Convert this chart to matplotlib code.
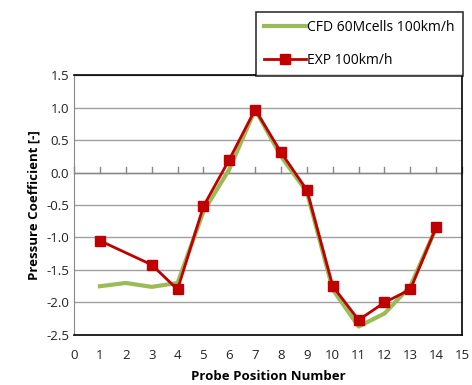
import numpy as np
import matplotlib
matplotlib.use("Agg")
import matplotlib.pyplot as plt

plt.rcParams['font.family'] = ['Open Sans', 'DejaVu Sans']

# data
cfd_x = [1, 2, 3, 4, 5, 6, 7, 8, 9, 10, 11, 12, 13, 14]
cfd_cp = [-1.75, -1.70, -1.76, -1.70, -0.60, 0.05, 0.97, 0.25, -0.30, -1.80, -2.37, -2.17, -1.75, -0.85]
exp_x = [1, 3, 4, 5, 6, 7, 8, 9, 10, 11, 12, 13, 14]
exp_cp = [-1.05, -1.42, -1.80, -0.52, 0.20, 0.97, 0.31, -0.27, -1.75, -2.27, -2.00, -1.80, -0.84]

xticks = np.arange(0, 16, 1)
yticks = np.arange(-2.5, 1.51, 0.5)

fig = plt.figure(figsize=(4.72, 3.85), dpi=100)
ax = fig.add_axes([0.157, 0.130, 0.822, 0.675])

green = '#9bbb59'
red = '#c00000'

ax.plot(cfd_x, cfd_cp, color=green, lw=3, label='CFD 60Mcells 100km/h', zorder=3)
ax.plot(exp_x, exp_cp, color=red, lw=2, marker='s', ms=7.3, label='EXP 100km/h', zorder=4)

ax.set_xlim(0, 15)
ax.set_ylim(-2.5, 1.5)
ax.set_xticks(xticks)
ax.set_yticks(yticks)
ax.set_yticklabels(['%.1f' % v for v in yticks])
ax.tick_params(axis='both', length=0, labelsize=9.5, colors='#222222')
ax.tick_params(axis='x', pad=10)

ax.grid(axis='y', color='#a0a0a0', lw=1)
ax.set_axisbelow(True)

# axis line at y = 0 with small tick marks
ax.axhline(0, color='#888888', lw=1, zorder=2)
for xt in xticks:
    ax.plot([xt, xt], [0, 0.08], color='#888888', lw=1, zorder=2, clip_on=False)

for s in ['top', 'right', 'bottom']:
    ax.spines[s].set_color('black')
    ax.spines[s].set_linewidth(1.2)
ax.spines['left'].set_color('#888888')

ax.set_xlabel('Probe Position Number', fontweight='bold', fontsize=9.5, labelpad=6)
ax.set_ylabel('Pressure Coefficient [-]', fontweight='bold', fontsize=9.5, labelpad=4)

leg = fig.legend(loc='upper left', bbox_to_anchor=(0.542, 0.969), fontsize=10,
                 frameon=True, fancybox=False, edgecolor='black', handlelength=3.0,
                 handletextpad=0.1, labelspacing=1.25, borderpad=0.6, borderaxespad=0)
leg.get_frame().set_linewidth(1.2)

fig.savefig('out.png', dpi=100)
